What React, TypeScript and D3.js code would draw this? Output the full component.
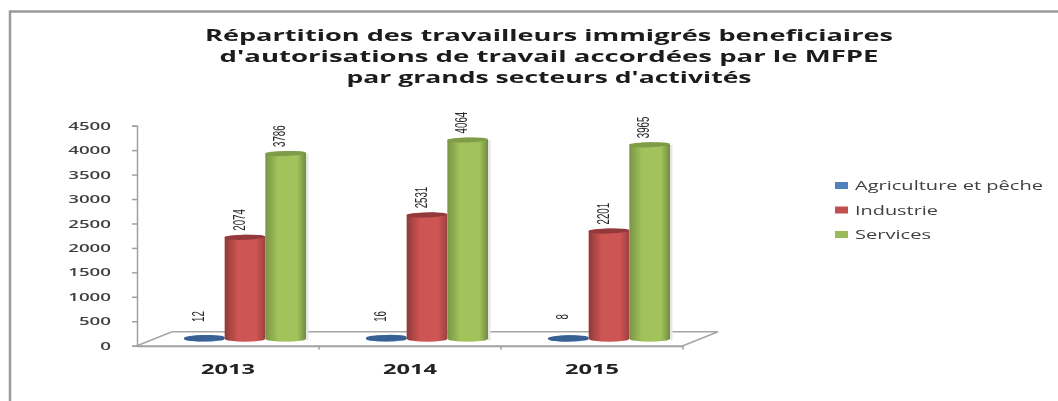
import React, { useEffect, useRef } from "react";
import * as d3 from "d3";

const years = ["2013", "2014", "2015"];
const seriesNames = ["Agriculture et pêche", "Industrie", "Services"];
const agriculture = [12, 16, 8];
const industrie = [2074, 2531, 2201];
const services = [3786, 4064, 3965];
const yTicks = [0, 500, 1000, 1500, 2000, 2500, 3000, 3500, 4000, 4500];
const titleLines = [
  "Répartition des travailleurs immigrés beneficiaires",
  "d'autorisations de travail accordées par le MFPE",
  "par grands secteurs d'activités",
];
const titleWidths = [688, 659, 405];
const legendWidths = [188, 83, 76];

// edge, mid, dark edge, cap
const colors = [
  ["#2c5486", "#4a7ebb", "#264a78", "#376092"],
  ["#8f3a38", "#cd5452", "#9a403e", "#93393a"],
  ["#7a9443", "#a2c35c", "#728b40", "#7f9c48"],
];
const legendColors = ["#4f81bd", "#c0504d", "#9bbb59"];

const width = 1058;
const height = 401;
const depth = { x: 35, y: 14 };
const fontFamily = "'Open Sans', sans-serif";

const App = () => {
  const ref = useRef<SVGSVGElement>(null);

  useEffect(() => {
    const svg = d3.select(ref.current);
    svg.selectAll("*").remove();

    const rows = [agriculture, industrie, services];
    const x = d3.scaleBand().domain(years).range([137, 683]);
    const xSeries = d3
      .scaleBand()
      .domain(seriesNames)
      .range([29.5, 151.5]);
    const y = d3.scaleLinear().domain([0, 4500]).range([345.7, 125.7]);

    const defs = svg.append("defs");
    colors.forEach((c, i) => {
      const grad = defs
        .append("linearGradient")
        .attr("id", `cyl${i}`)
        .attr("x1", 0)
        .attr("x2", 1)
        .attr("y1", 0)
        .attr("y2", 0);
      grad.append("stop").attr("offset", "0%").attr("stop-color", c[0]);
      grad.append("stop").attr("offset", "32%").attr("stop-color", c[1]);
      grad.append("stop").attr("offset", "78%").attr("stop-color", c[1]);
      grad.append("stop").attr("offset", "100%").attr("stop-color", c[2]);
    });
    defs
      .append("filter")
      .attr("id", "soft")
      .append("feGaussianBlur")
      .attr("stdDeviation", 0.5);

    const root = svg.append("g").attr("filter", "url(#soft)");

    // frame
    root
      .append("path")
      .attr("d", `M10,${height + 5} V11.5 H${width + 5}`)
      .attr("fill", "none")
      .attr("stroke", "#9a9a9a")
      .attr("stroke-width", 2.5);

    // title
    root
      .append("g")
      .selectAll("text")
      .data(titleLines)
      .join("text")
      .attr("x", 549)
      .attr("y", (d, i) => 41 + i * 21)
      .attr("text-anchor", "middle")
      .attr("textLength", (d, i) => titleWidths[i])
      .attr("lengthAdjust", "spacingAndGlyphs")
      .attr("font-family", fontFamily)
      .attr("font-weight", 700)
      .attr("font-size", 15.5)
      .attr("fill", "#1a1a1a")
      .text((d) => d);

    // floor
    const x0 = x.range()[0];
    const x1 = x.range()[1];
    const floor = d3.path();
    floor.moveTo(x0, y(0));
    floor.lineTo(x0 + depth.x, y(0) - depth.y);
    floor.lineTo(x1 + depth.x, y(0) - depth.y);
    floor.lineTo(x1, y(0));
    root
      .append("path")
      .attr("d", floor.toString())
      .attr("fill", "#ffffff")
      .attr("stroke", "#a6a6a6")
      .attr("stroke-width", 1.5);

    // axes
    const yAxis = d3
      .axisLeft(y)
      .tickValues(yTicks)
      .tickFormat((d) => `${d}`)
      .tickSize(5)
      .tickPadding(21);
    const yG = root.append("g").attr("transform", `translate(${x0},0)`).call(yAxis);
    yG.selectAll("path, line").attr("stroke", "#a0a0a0").attr("stroke-width", 1.5);
    yG.selectAll("text")
      .attr("font-family", fontFamily)
      .attr("font-size", 11)
      .attr("font-weight", 600)
      .attr("fill", "#404040")
      .attr("textLength", (d: any) => String(d).length * 10.7)
      .attr("lengthAdjust", "spacingAndGlyphs");

    const xAxis = d3.axisBottom(x).tickSize(0).tickPadding(18);
    const xG = root.append("g").attr("transform", `translate(0,${y(0)})`).call(xAxis);
    xG.select("path").attr("stroke", "#a0a0a0").attr("stroke-width", 2);
    xG.selectAll("text")
      .attr("font-family", fontFamily)
      .attr("font-size", 14)
      .attr("font-weight", 700)
      .attr("fill", "#222222")
      .attr("textLength", 54)
      .attr("lengthAdjust", "spacingAndGlyphs");
    root
      .append("g")
      .selectAll("line")
      .data(years)
      .join("line")
      .attr("x1", (d) => (x(d) as number) + x.bandwidth())
      .attr("x2", (d) => (x(d) as number) + x.bandwidth())
      .attr("y1", y(0))
      .attr("y2", y(0) + 4)
      .attr("stroke", "#a0a0a0")
      .attr("stroke-width", 1.5);

    // cylinders, drawn left to right so that they overlap like the original
    const rx = xSeries.bandwidth() / 2;
    const barX = (yearIdx: number, s: number) =>
      (x(years[yearIdx]) as number) +
      (xSeries(seriesNames[s]) as number) +
      depth.x / 2;
    const barBase = y(0) - depth.y / 2;

    years.forEach((year, yi) => {
      const g = root.append("g").attr("class", year);
      rows.forEach((row, s) => {
        const v = row[yi];
        const left = barX(yi, s);
        const right = left + xSeries.bandwidth();
        const top = y(v) - depth.y / 2;
        const ry = s === 0 ? 3 : 2.5;

        if (s === 2) {
          // faint shadow right of the green bar
          g.append("rect")
            .attr("x", right)
            .attr("y", top)
            .attr("width", 2.5)
            .attr("height", barBase - top + 2)
            .attr("fill", "#e6e6e6");
        }
        g.append("path")
          .attr(
            "d",
            `M${left},${top} A${rx},${ry} 0 0 1 ${right},${top} V${barBase} A${rx},3 0 0 1 ${left},${barBase} Z`
          )
          .attr("fill", `url(#cyl${s})`);
        g.append("ellipse")
          .attr("cx", left + rx)
          .attr("cy", top)
          .attr("rx", rx)
          .attr("ry", ry)
          .attr("transform", `rotate(-2 ${left + rx} ${top})`)
          .attr("fill", colors[s][3]);

        const labelGap = s === 0 ? 21.5 : 17.4;
        g.append("text")
          .attr("transform", `translate(${left + rx - 0.5},${top - labelGap}) rotate(-90)`)
          .attr("text-anchor", "middle")
          .attr("font-family", "'Liberation Sans', sans-serif")
          .attr("font-size", 17)
          .attr("fill", "#262626")
          .attr("textLength", String(v).length * 5.4)
          .attr("lengthAdjust", "spacingAndGlyphs")
          .text(v);
      });
    });

    // legend
    const legend = root
      .append("g")
      .selectAll("g")
      .data(seriesNames)
      .join("g")
      .attr("transform", (d, i) => `translate(835,${182 + i * 24.5})`);
    legend
      .append("rect")
      .attr("width", 13)
      .attr("height", 7)
      .attr("fill", (d, i) => legendColors[i]);
    legend
      .append("text")
      .attr("x", 20)
      .attr("y", 8)
      .attr("font-family", fontFamily)
      .attr("font-size", 12)
      .attr("fill", "#404040")
      .attr("textLength", (d, i) => legendWidths[i])
      .attr("lengthAdjust", "spacingAndGlyphs")
      .text((d) => d);
  }, []);

  return (
    <svg
      ref={ref}
      width={width}
      height={height}
      style={{ position: "absolute", left: 0, top: 0, background: "#ffffff" }}
    />
  );
};

export default App;
